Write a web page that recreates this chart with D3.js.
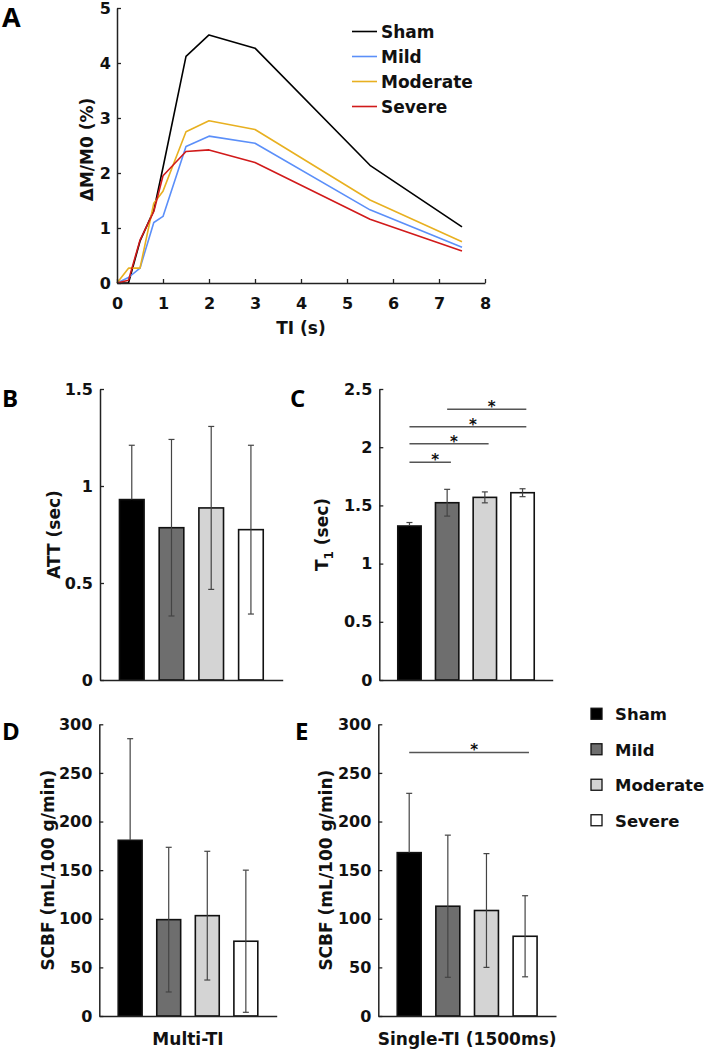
<!DOCTYPE html>
<html><head><meta charset="utf-8">
<script src="https://cdn.jsdelivr.net/npm/d3@7"></script>
<style>
body{margin:0;background:#fff;}
svg{display:block;overflow:visible;}
text{font-family:"DejaVu Sans",sans-serif;font-weight:bold;fill:#111;}
.letter{font-family:"Open Sans",sans-serif;font-weight:bold;fill:#000;}
</style></head>
<body>
<script>
// ---------- Data ----------
const groups = ["Sham", "Mild", "Moderate", "Severe"];
const lineColors = ["#000000", "#5b8ff9", "#e8b020", "#d11a1a"];
const barFills = ["#000000", "#6e6e6e", "#d4d4d4", "#ffffff"];

// Panel A: ΔM/M0 (%) vs TI (s)
const tiValues = [0, 0.25, 0.5, 0.8, 1, 1.5, 2, 3, 5.5, 7.5];
const shamCurve = [0, 0, 0.76, 1.32, 2.1, 4.12, 4.51, 4.27, 2.14, 1.02];
const mildCurve = [0, 0.1, 0.27, 1.1, 1.21, 2.48, 2.67, 2.54, 1.33, 0.65];
const moderateCurve = [0, 0.27, 0.27, 1.45, 1.67, 2.75, 2.95, 2.79, 1.51, 0.75];
const severeCurve = [0, 0.05, 0.78, 1.3, 1.95, 2.39, 2.42, 2.19, 1.16, 0.58];
const aXTicks = [0, 1, 2, 3, 4, 5, 6, 7, 8];
const aYTicks = [0, 1, 2, 3, 4, 5];

// Panel B: ATT (sec)
const attMean = [0.93, 0.785, 0.887, 0.775];
const attSD = [0.28, 0.455, 0.42, 0.435];
const bTicks = [0, 0.5, 1, 1.5];

// Panel C: T1 (sec)
const t1Mean = [1.323, 1.523, 1.569, 1.609];
const t1SD = [0.03, 0.115, 0.047, 0.034];
const cTicks = [0, 0.5, 1, 1.5, 2, 2.5];
const cSig = [
  {from: 0, to: 1, y: 1.87},
  {from: 0, to: 2, y: 2.03},
  {from: 0, to: 3, y: 2.175},
  {from: 1, to: 3, y: 2.325}
];

// Panel D: SCBF multi-TI
const cbfMultiMean = [180.7, 99.1, 103.2, 76.9];
const cbfMultiSD = [104.5, 74.4, 66.2, 73.1];
// Panel E: SCBF single-TI
const cbfSingleMean = [168, 112.9, 108.5, 82];
const cbfSingleSD = [61, 73.1, 58.5, 41.7];
const cbfTicks = [0, 50, 100, 150, 200, 250, 300];
const eSig = [{from: 0, to: 3, y: 271}];

// ---------- Drawing ----------
const svg = d3.select("body").append("svg").attr("width", 707).attr("height", 1050);
const FONT = "DejaVu Sans, sans-serif";

function styleAxis(g, fontSize) {
  g.select(".domain").attr("stroke", "#222").attr("stroke-width", 1.5);
  g.selectAll(".tick line").attr("stroke", "#222").attr("stroke-width", 1.3);
  g.selectAll(".tick text").attr("font-family", FONT)
    .attr("font-weight", "bold").attr("font-size", fontSize).attr("fill", "#111");
}

// Panel A
(function () {
  const x = d3.scaleLinear().domain([0, 8]).range([117, 485]);
  const y = d3.scaleLinear().domain([0, 5]).range([283, 8]);
  const series = [shamCurve, mildCurve, moderateCurve, severeCurve];

  const line = d3.line().x((d, i) => x(tiValues[i])).y(d => y(d));
  series.forEach((s, k) => {
    svg.append("path").datum(s).attr("d", line).attr("fill", "none")
      .attr("stroke", lineColors[k]).attr("stroke-width", 1.6).attr("stroke-linejoin", "round");
  });

  const gx = svg.append("g").attr("transform", `translate(0,${y(0)})`)
    .call(d3.axisBottom(x).tickValues(aXTicks).tickFormat(d3.format("d"))
      .tickSizeInner(-4).tickSizeOuter(0).tickPadding(15));
  styleAxis(gx, 16);
  const gy = svg.append("g").attr("transform", `translate(${x(0)},0)`)
    .call(d3.axisLeft(y).tickValues(aYTicks).tickFormat(d3.format("d"))
      .tickSizeInner(-4).tickSizeOuter(0).tickPadding(6));
  styleAxis(gy, 16);

  svg.append("text").attr("transform", `translate(93,${(y(0) + y(5)) / 2 + 4}) rotate(-90)`)
    .attr("text-anchor", "middle").attr("font-size", 17).text("ΔM/M0 (%)");
  svg.append("text").attr("x", (x(0) + x(8)) / 2).attr("y", 334)
    .attr("text-anchor", "middle").attr("font-size", 17).text("TI (s)");

  // legend
  const lg = svg.append("g");
  const ly = d3.scaleBand().domain(groups).range([19, 119]);
  groups.forEach((g, k) => {
    const cy = ly(g) + ly.bandwidth() / 2;
    lg.append("line").attr("x1", 352).attr("x2", 377).attr("y1", cy).attr("y2", cy)
      .attr("stroke", lineColors[k]).attr("stroke-width", 1.6);
    lg.append("text").attr("x", 381).attr("y", cy + 6.5).attr("font-size", 17).text(g);
  });

  svg.append("text").attr("class", "letter").attr("x", 2).attr("y", 27)
    .attr("font-size", 27).text("A");
})();

function barPanel(opt) {
  const x = d3.scaleLinear().domain([0.2, 4.8]).range([opt.x0, opt.x1]);
  const y = d3.scaleLinear().domain([0, opt.ymax]).range([opt.yBot, opt.yTop]);
  const bw = x(0.2 + 0.62) - x(0.2);
  const g = svg.append("g");

  g.selectAll("rect.bar").data(opt.mean).enter().append("rect")
    .attr("x", (d, i) => x(i + 1) - bw / 2).attr("width", bw)
    .attr("y", d => y(d)).attr("height", d => y(0) - y(d))
    .attr("fill", (d, i) => barFills[i]).attr("stroke", "#111").attr("stroke-width", 1.6);

  // error bars
  opt.mean.forEach((m, i) => {
    const cx = x(i + 1), lo = y(m - opt.sd[i]), mid = y(m), hi = y(m + opt.sd[i]);
    const c = "#444";
    const cLow = i === 0 ? "#000" : c;
    g.append("line").attr("x1", cx).attr("x2", cx).attr("y1", lo).attr("y2", mid)
      .attr("stroke", cLow).attr("stroke-width", 1.2);
    g.append("line").attr("x1", cx).attr("x2", cx).attr("y1", mid).attr("y2", hi)
      .attr("stroke", c).attr("stroke-width", 1.2);
    g.append("line").attr("x1", cx - 3).attr("x2", cx + 3).attr("y1", lo).attr("y2", lo)
      .attr("stroke", cLow).attr("stroke-width", 1.2);
    g.append("line").attr("x1", cx - 3).attr("x2", cx + 3).attr("y1", hi).attr("y2", hi)
      .attr("stroke", c).attr("stroke-width", 1.2);
  });

  // significance
  (opt.sig || []).forEach(s => {
    const xa = x(s.from + 1), xb = x(s.to + 1.1), yy = y(s.y);
    g.append("line").attr("x1", xa).attr("x2", xb).attr("y1", yy).attr("y2", yy)
      .attr("stroke", "#555").attr("stroke-width", 1.5);
    g.append("text").attr("x", (xa + xb) / 2 + 5).attr("y", yy + 3)
      .attr("text-anchor", "middle").attr("font-size", 15).attr("fill", "#333").text("*");
  });

  const gx = g.append("g").attr("transform", `translate(0,${y(0)})`)
    .call(d3.axisBottom(x).tickValues([]).tickSizeOuter(0));
  styleAxis(gx, 16);
  const gy = g.append("g").attr("transform", `translate(${opt.x0},0)`)
    .call(d3.axisLeft(y).tickValues(opt.ticks).tickFormat(d => String(d))
      .tickSizeInner(-4).tickSizeOuter(0).tickPadding(7));
  styleAxis(gy, 16);

  const lab = g.append("text")
    .attr("transform", `translate(${opt.labelX},${(opt.yTop + opt.yBot) / 2}) rotate(-90)`)
    .attr("text-anchor", "middle").attr("font-size", 17);
  if (opt.sub) {
    lab.append("tspan").text(opt.label);
    lab.append("tspan").attr("font-size", 12).attr("dy", 5).text(opt.sub);
    lab.append("tspan").attr("dy", -5).text(opt.label2);
  } else {
    lab.text(opt.label);
  }
  if (opt.xlabel) {
    g.append("text").attr("x", (opt.x0 + opt.x1) / 2).attr("y", 1045)
      .attr("text-anchor", "middle").attr("font-size", 17).text(opt.xlabel);
  }
  g.append("text").attr("class", "letter").attr("x", opt.letterX).attr("y", opt.letterY)
    .attr("font-size", 24).text(opt.letter);
}

barPanel({x0: 100, x1: 282.7, yTop: 389, yBot: 680, ymax: 1.5, ticks: bTicks,
  mean: attMean, sd: attSD, label: "ATT (sec)", labelX: 60, letter: "B", letterX: 2, letterY: 407});
barPanel({x0: 379.3, x1: 552.7, yTop: 389, yBot: 680, ymax: 2.5, ticks: cTicks,
  mean: t1Mean, sd: t1SD, sig: cSig, label: "T", sub: "1", label2: " (sec)", labelX: 328,
  letter: "C", letterX: 290, letterY: 407});
barPanel({x0: 99.3, x1: 276.7, yTop: 724.3, yBot: 1016, ymax: 300, ticks: cbfTicks,
  mean: cbfMultiMean, sd: cbfMultiSD, label: "SCBF (mL/100 g/min)", labelX: 54,
  xlabel: "Multi-TI", letter: "D", letterX: 2, letterY: 740});
barPanel({x0: 378.3, x1: 556, yTop: 724.3, yBot: 1016, ymax: 300, ticks: cbfTicks,
  mean: cbfSingleMean, sd: cbfSingleSD, sig: eSig, label: "SCBF (mL/100 g/min)", labelX: 332,
  xlabel: "Single-TI (1500ms)", letter: "E", letterX: 295, letterY: 740});

// Bottom legend
(function () {
  const ly = d3.scaleBand().domain(groups).range([696, 838]);
  groups.forEach((gname, k) => {
    const cy = ly(gname) + ly.bandwidth() / 2;
    svg.append("rect").attr("x", 591).attr("y", cy - 5.5).attr("width", 11).attr("height", 11)
      .attr("fill", barFills[k]).attr("stroke", "#111").attr("stroke-width", 1.3);
    svg.append("text").attr("x", 615).attr("y", cy + 6.5).attr("font-size", 16.5).text(gname);
  });
})();
</script>
</body></html>
